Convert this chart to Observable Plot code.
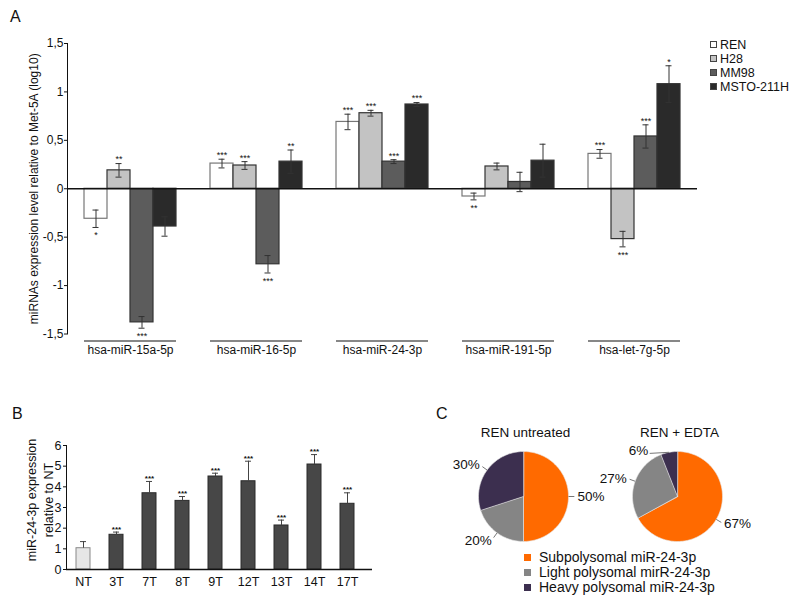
<!DOCTYPE html>
<html><head><meta charset="utf-8">
<script src="https://cdn.jsdelivr.net/npm/d3@7"></script>
<script src="https://cdn.jsdelivr.net/npm/@observablehq/plot@0.6"></script>
<style>
body{margin:0;background:#fff;}
#root{position:relative;width:800px;height:605px;overflow:hidden;font-family:"Liberation Sans",Arial,Helvetica,sans-serif;color:#111;background:#fff;}
#root svg{position:absolute;overflow:visible;}
.abs{position:absolute;white-space:nowrap;}
.letter{font-size:16px;}
.legA{font-size:12.5px;line-height:14px;}
.legA .sw{display:inline-block;width:5px;height:5px;border:1px solid #444;margin-right:3px;vertical-align:1px;}
.legC{font-size:14px;line-height:15px;}
.legC .sw{display:inline-block;width:7px;height:7px;margin-right:8px;vertical-align:1px;}
.ylabB{width:200px;height:36px;line-height:17px;font-size:12.5px;text-align:center;transform:rotate(-90deg);transform-origin:50% 50%;white-space:pre;}
</style></head><body><div id="root"></div>
<script>
// ---------- Panel A data ----------
const groups = ["hsa-miR-15a-5p", "hsa-miR-16-5p", "hsa-miR-24-3p", "hsa-miR-191-5p", "hsa-let-7g-5p"];
const cellLines = ["REN", "H28", "MM98", "MSTO-211H"];
const renVals  = [-0.31, 0.26, 0.69, -0.08, 0.36];
const renErr   = [0.09, 0.045, 0.08, 0.035, 0.045];
const renSig   = ["*", "***", "***", "**", "***"];
const h28Vals  = [0.19, 0.24, 0.78, 0.23, -0.52];
const h28Err   = [0.07, 0.04, 0.03, 0.035, 0.08];
const h28Sig   = ["**", "***", "***", "", "***"];
const mm98Vals = [-1.38, -0.78, 0.28, 0.07, 0.54];
const mm98Err  = [0.06, 0.09, 0.02, 0.10, 0.12];
const mm98Sig  = ["***", "***", "***", "", "***"];
const mstoVals = [-0.39, 0.28, 0.87, 0.29, 1.08];
const mstoErr  = [0.10, 0.12, 0.02, 0.17, 0.19];
const mstoSig  = ["", "**", "***", "", "*"];
const aTicks = [-1.5, -1, -0.5, 0, 0.5, 1, 1.5];
const aYLabel = "miRNAs expression level relative to Met-5A (log10)";

// ---------- Panel B data ----------
const bCats = ["NT", "3T", "7T", "8T", "9T", "12T", "13T", "14T", "17T"];
const bVals = [1.03, 1.68, 3.69, 3.32, 4.50, 4.27, 2.13, 5.08, 3.18];
const bErr  = [0.32, 0.13, 0.57, 0.21, 0.16, 0.97, 0.26, 0.48, 0.53];
const bSig  = ["", "***", "***", "***", "***", "***", "***", "***", "***"];
const bTicks = [0, 1, 2, 3, 4, 5, 6];
const bYLabel = "miR-24-3p expression\nrelative to NT";

// ---------- Panel C data ----------
const cCats = ["Subpolysomal miR-24-3p", "Light polysomal mirR-24-3p", "Heavy polysomal miR-24-3p"];
const untreatedPct = [50, 20, 30];
const edtaPct = [67, 27, 6];
const pieTitles = ["REN untreated", "REN + EDTA"];

// ---------- styles / layout ----------
const FONT = "Liberation Sans, Arial, Helvetica, sans-serif";
const aFill = ["#ffffff", "#c3c3c3", "#5c5c5c", "#2a2a2a"];
const cColors = ["#ff6a00", "#858585", "#3c2f4f"];
// label angle nudges (degrees) for crowded pie labels: [pie index][slice index]
const pieLabelNudge = [[0, 0, 0], [0, 0, -22]];

const root = document.getElementById("root");
function place(el, left, top) { el.style.left = left + "px"; el.style.top = top + "px"; root.appendChild(el); return el; }
function div(cls, html, left, top) { const d = document.createElement("div"); d.className = "abs " + cls; d.innerHTML = html; return place(d, left, top); }

// ---------- Panel A ----------
const aVals = [renVals, h28Vals, mm98Vals, mstoVals];
const aErrs = [renErr, h28Err, mm98Err, mstoErr];
const aSigs = [renSig, h28Sig, mm98Sig, mstoSig];
const aRows = [];
cellLines.forEach((ln, j) => groups.forEach((g, i) => aRows.push({group: g, line: ln, value: aVals[j][i], err: aErrs[j][i], sig: aSigs[j][i]})));
const comma = d => String(d).replace(".", ",");

const plotA = Plot.plot({
  width: 800, height: 365,
  marginLeft: 66, marginRight: 102, marginTop: 43, marginBottom: 31.5,
  style: {fontFamily: FONT, fontSize: "12px", color: "#111", background: "transparent"},
  facet: {data: aRows, x: "group"},
  fx: {domain: groups, padding: 0, axis: "bottom", label: null, tickSize: 0, tickPadding: 11},
  x: {domain: cellLines, padding: 0, insetLeft: 17, insetRight: 17, axis: null},
  y: {domain: [-1.5, 1.5], ticks: aTicks, tickFormat: comma, tickSize: 3, tickPadding: 1, line: true,
      label: aYLabel, labelAnchor: "center", labelOffset: 38, labelArrow: "none"},
  color: {domain: cellLines, range: aFill},
  marks: [
    Plot.barY(aRows, {filter: d => d.line === "REN", x: "line", y1: 0, y2: "value", fill: "line", stroke: "#777", strokeWidth: 1.2}),
    Plot.barY(aRows, {filter: d => d.line !== "REN", x: "line", y1: 0, y2: "value", fill: "line", stroke: "#333", strokeWidth: 1.2}),
    Plot.ruleX(aRows, {x: "line", y1: d => d.value - d.err, y2: d => d.value + d.err, stroke: "#333"}),
    Plot.tickY(aRows, {x: "line", y: d => d.value + d.err, insetLeft: 8.5, insetRight: 8.5, stroke: "#333"}),
    Plot.tickY(aRows, {x: "line", y: d => d.value - d.err, insetLeft: 8.5, insetRight: 8.5, stroke: "#333"}),
    Plot.ruleY([0], {stroke: "#111", strokeWidth: 1.4}),
    Plot.ruleY([-1.5], {dy: 7, insetLeft: 17, insetRight: 17, stroke: "#111", strokeWidth: 1.2}),
    Plot.text(aRows, {filter: d => d.sig && d.value >= 0, x: "line", y: d => d.value + d.err, text: "sig", dy: -4, fontSize: 9}),
    Plot.text(aRows, {filter: d => d.sig && d.value < 0, x: "line", y: d => d.value - d.err, text: "sig", dy: 8, fontSize: 9})
  ]
});
place(plotA, 0, 0);

div("letter", "A", 10, 8);
div("legA", cellLines.map((l, i) => `<div><span class="sw" style="background:${aFill[i]}"></span>${l}</div>`).join(""), 710, 38);

// ---------- Panel B ----------
const bRows = bCats.map((c, i) => ({cat: c, value: bVals[i], err: bErr[i], sig: bSig[i]}));
const plotB = Plot.plot({
  width: 380, height: 164,
  marginLeft: 66, marginRight: 8, marginTop: 15, marginBottom: 25,
  style: {fontFamily: FONT, fontSize: "12.5px", color: "#111", background: "transparent"},
  x: {domain: bCats, paddingInner: 0.57, paddingOuter: 0.42, align: 0.36, tickSize: 0, tickPadding: 8, label: null},
  y: {domain: [0, 6], ticks: bTicks, tickFormat: d => String(d), tickSize: 3, tickPadding: 2, line: true, label: null},
  marks: [
    Plot.barY(bRows, {filter: d => d.cat === "NT", x: "cat", y1: 0, y2: "value", fill: "#e6e6e6", stroke: "#888"}),
    Plot.barY(bRows, {filter: d => d.cat !== "NT", x: "cat", y1: 0, y2: "value", fill: "#474747", stroke: "#2a2a2a"}),
    Plot.ruleX(bRows, {x: "cat", y1: "value", y2: d => d.value + d.err, stroke: "#444"}),
    Plot.tickY(bRows, {x: "cat", y: d => d.value + d.err, insetLeft: 4, insetRight: 4, stroke: "#444"}),
    Plot.ruleY([0], {stroke: "#111", strokeWidth: 1.3}),
    Plot.text(bRows, {filter: d => d.sig, x: "cat", y: d => d.value + d.err, text: "sig", dy: -3, fontSize: 8, fontWeight: "bold"})
  ]
});
place(plotB, 0, 430);
div("letter", "B", 12, 405);
div("ylabB", "", -58, 482).textContent = bYLabel;

// ---------- Panel C ----------
// planar unit-circle geometry (identity projection: y grows downward), angle clockwise from 12 o'clock
const polar = (deg, k) => [k * Math.sin(deg * Math.PI / 180), -k * Math.cos(deg * Math.PI / 180)];
function wedgeRing(a0, a1) {
  const ring = [[0, 0]];
  const n = Math.max(2, Math.ceil((a1 - a0) / 2));
  for (let i = 0; i <= n; i++) ring.push(polar(a0 + (a1 - a0) * i / n, 1));
  ring.push([0, 0]);
  return ring;
}
const PIE_W = 170, PIE_H = 150, PIE_CX = 83, PIE_CY = 76, PIE_R = 45;
function makePie(values, title, nudge) {
  const total = d3.sum(values);
  let acc = 0;
  const slices = values.map((v, i) => { const a0 = acc / total * 360; acc += v; return {cat: cCats[i], value: v, a0, a1: acc / total * 360}; });
  const features = slices.map(s => ({type: "Feature", properties: s, geometry: {type: "Polygon", coordinates: [wedgeRing(s.a0, s.a1)]}}));
  const labels = slices.map((s, i) => {
    const mid = (s.a0 + s.a1) / 2, la = mid + nudge[i];
    const [x0, y0] = polar(mid, 1), [x1, y1] = polar(la, nudge[i] ? 1.14 : 1.13), [lx, ly] = polar(la, 1.2);
    return {...s, mid: la, x0, y0, x1, y1, lx, ly, label: s.value + "%"};
  });
  // the projection domain spans the whole SVG so that one unit equals the pie radius
  const domain = {type: "MultiPoint", coordinates: [[-PIE_CX / PIE_R, -PIE_CY / PIE_R], [(PIE_W - PIE_CX) / PIE_R, (PIE_H - PIE_CY) / PIE_R]]};
  return Plot.plot({
    width: PIE_W, height: PIE_H,
    margin: 0,
    style: {fontFamily: FONT, fontSize: "13.5px", color: "#111", background: "transparent"},
    projection: {type: "identity", domain},
    color: {domain: cCats, range: cColors},
    marks: [
      Plot.geo(features, {fill: d => d.properties.cat, stroke: "#e8e8e8", strokeWidth: 0.6}),
      Plot.link(labels, {x1: "x0", y1: "y0", x2: "x1", y2: "y1", stroke: "#777"}),
      Plot.text(labels.filter(d => d.mid <= 180), {x: "lx", y: "ly", text: "label", textAnchor: "start", fontSize: 13.5}),
      Plot.text(labels.filter(d => d.mid > 180), {x: "lx", y: "ly", text: "label", textAnchor: "end", fontSize: 13.5}),
      Plot.text([title], {frameAnchor: "top", dy: 12, lineAnchor: "middle", text: d => d, fontSize: 13.5})
    ]
  });
}
place(makePie(untreatedPct, pieTitles[0], pieLabelNudge[0]), 440, 420);
place(makePie(edtaPct, pieTitles[1], pieLabelNudge[1]), 594, 420);
div("letter", "C", 436, 405);
div("legC", cCats.map((c, i) => `<div><span class="sw" style="background:${cColors[i]}"></span>${c}</div>`).join(""), 524, 550);
</script></body></html>
